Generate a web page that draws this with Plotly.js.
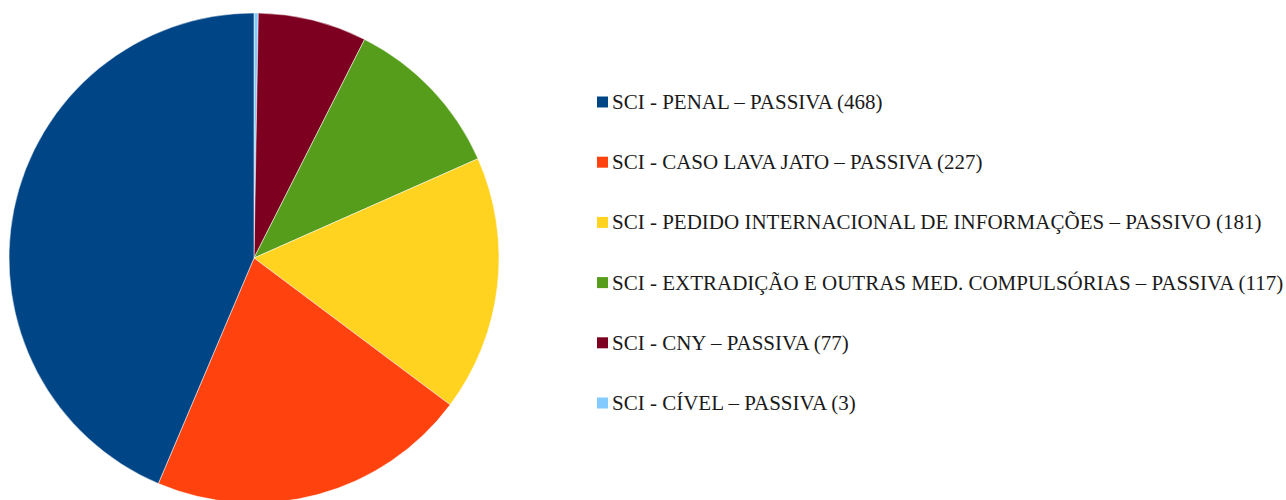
<!DOCTYPE html>
<html>
<head>
<meta charset="utf-8">
<script src="https://cdn.plot.ly/plotly-3.0.1.min.js"></script>
<style>
html,body{margin:0;padding:0;overflow:hidden;background:#fff;}
#chart{width:1286px;height:503px;}
</style>
</head>
<body>
<div id="chart"></div>
<script>
const labels = [
  "SCI - PENAL – PASSIVA (468)",
  "SCI - CASO LAVA JATO – PASSIVA (227)",
  "SCI - PEDIDO INTERNACIONAL DE INFORMAÇÕES – PASSIVO (181)",
  "SCI - EXTRADIÇÃO E OUTRAS MED. COMPULSÓRIAS – PASSIVA (117)",
  "SCI - CNY – PASSIVA (77)",
  "SCI - CÍVEL – PASSIVA (3)"
];
const values = [468, 227, 181, 117, 77, 3];
const colors = ["#004586", "#ff420e", "#ffd320", "#579d1c", "#7e0021", "#83caff"];

const W = 1286, H = 503, TOP = 13;
const plotH = H - TOP;
function py(p){ return (H - p) / plotH; }

const legendY0 = 102, legendStep = 60.2;
const annotations = [], shapes = [];
labels.forEach((lab, i) => {
  const yc = legendY0 + i * legendStep;
  annotations.push({
    text: lab, xref: 'paper', yref: 'paper',
    x: 610 / W, y: py(yc), xanchor: 'left', yanchor: 'middle',
    showarrow: false,
    font: {family: 'Liberation Serif, Times New Roman, serif', size: 21, color: '#1a1a1a'}
  });
  shapes.push({
    type: 'rect', xref: 'paper', yref: 'paper',
    x0: 597 / W, x1: 608 / W, y0: py(yc + 5.5), y1: py(yc - 5.5),
    fillcolor: colors[i], line: {width: 0}
  });
});

// slices run counterclockwise from 12 o'clock: feed them reversed, clockwise
const revLabels = labels.slice().reverse();
const revValues = values.slice().reverse();
const revColors = colors.slice().reverse();

const data = [{
  type: 'pie',
  labels: revLabels,
  values: revValues,
  sort: false,
  direction: 'clockwise',
  rotation: 0,
  marker: {colors: revColors, line: {color: '#ffffff', width: 0.5}},
  textinfo: 'none',
  hoverinfo: 'label+value+percent',
  showlegend: false,
  domain: {x: [9 / W, 499 / W], y: [0, 1]}
}];

const layout = {
  width: W, height: H,
  margin: {l: 0, r: 0, t: TOP, b: 0, pad: 0},
  paper_bgcolor: '#ffffff',
  plot_bgcolor: '#ffffff',
  showlegend: false,
  annotations: annotations,
  shapes: shapes
};

Plotly.newPlot('chart', data, layout, {displayModeBar: false, staticPlot: true});
</script>
</body>
</html>
